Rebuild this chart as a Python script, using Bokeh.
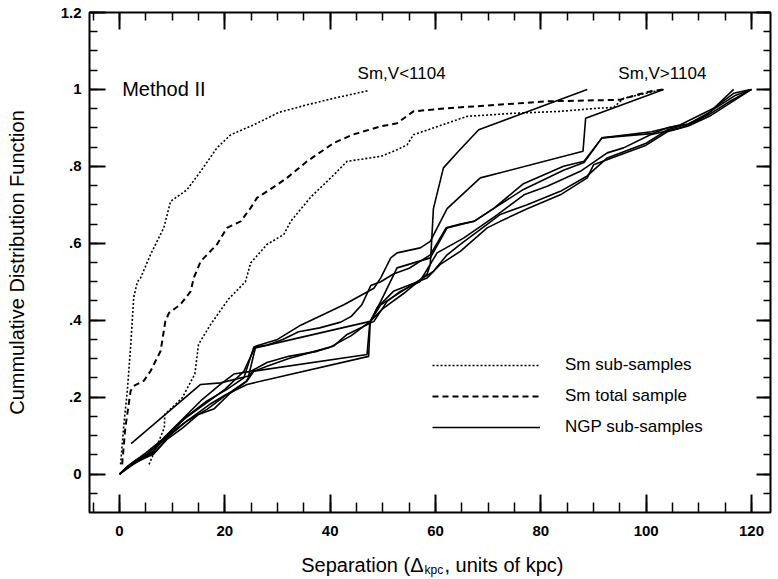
import math
from bokeh.plotting import figure
from bokeh.layouts import column
from bokeh.models import (Range1d, LinearAxis, FixedTicker, CustomJSTickFormatter,
                          Label, Legend, LegendItem)
from bokeh.embed import file_html
from bokeh.resources import INLINE

FONT = "Liberation Sans"

# ---------------- data ----------------
# Sm sub-sample, V<1104 (dotted, left)
sm_low_x = [0.2, 0.8, 1.5, 2.1, 2.7, 3.4, 4.0, 5.9, 8.4, 9.7, 12.8, 15.4, 18.5, 21.1, 25.5, 30.2, 35.6, 40.7, 47.3]
sm_low_y = [0.025, 0.125, 0.22, 0.33, 0.46, 0.50, 0.51, 0.571, 0.64, 0.709, 0.739, 0.787, 0.848, 0.882, 0.908, 0.94, 0.96, 0.977, 0.997]

# Sm total sample (dashed)
sm_tot_x = [0.5, 1.1, 2.1, 2.7, 4.6, 5.9, 7.8, 8.7, 9.4, 11.6, 13.5, 14.1, 15.4, 18.5, 20.4, 23.0, 24.9, 26.1, 29.9, 31.8,
            35.6, 40.7, 44.4, 49.6, 52.7, 55.8, 62.2, 81.2, 95.1, 98.0, 100.8, 103.3]
sm_tot_y = [0.025, 0.12, 0.216, 0.229, 0.242, 0.268, 0.32, 0.397, 0.419, 0.441, 0.475, 0.51, 0.553, 0.597, 0.64, 0.657,
            0.692, 0.718, 0.752, 0.77, 0.813, 0.861, 0.883, 0.904, 0.912, 0.943, 0.951, 0.969, 0.973, 0.985, 0.995, 1.0]

# Sm sub-sample, V>1104 (dotted, right)
sm_high_x = [5.6, 7.0, 8.5, 8.6, 11.9, 14.3, 15.0, 17.3, 20.7, 23.9, 24.9, 28.0, 31.2, 32.5, 36.3, 40.7, 43.2, 49.6,
             52.7, 54.6, 55.8, 66.0, 74.9, 83.7, 90.7, 93.8, 95.7, 100.0, 103.3]
sm_high_y = [0.025, 0.07, 0.12, 0.155, 0.198, 0.26, 0.337, 0.389, 0.455, 0.50, 0.549, 0.597, 0.623, 0.657, 0.72, 0.778,
             0.813, 0.826, 0.843, 0.856, 0.882, 0.93, 0.938, 0.943, 0.951, 0.953, 0.977, 0.99, 1.0]

# NGP sub-samples (solid)
ngp1_x = [0, 1.5, 3, 5, 8, 11, 14, 17, 20, 24.2, 47.3, 47.6, 50, 54, 58.4, 59.0, 59.2, 59.6, 61.5, 64.4, 68.2, 88.8]
ngp1_y = [0, 0.02, 0.035, 0.05, 0.085, 0.12, 0.15, 0.18, 0.205, 0.233, 0.306, 0.397, 0.43, 0.47, 0.52, 0.545, 0.59,
          0.69, 0.796, 0.84, 0.895, 1.0]

ngp2_x = [0, 2, 5, 9, 12, 15, 18, 20, 23.6, 25.8, 30, 34.4, 38, 42.6, 48.3, 49.6, 51.5, 52.7, 57.1, 59.0, 62.2, 68.5,
          88.0, 88.5, 103.3]
ngp2_y = [0, 0.025, 0.055, 0.10, 0.14, 0.17, 0.20, 0.22, 0.267, 0.332, 0.35, 0.387, 0.41, 0.44, 0.483, 0.51, 0.562,
          0.575, 0.588, 0.605, 0.69, 0.77, 0.839, 0.925, 1.0]

ngp3_x = [2.2, 15.4, 19.2, 24.5, 25.8, 47.6, 49.6, 52.7, 59.0, 62.2, 67.3, 71.0, 76.7, 84.3, 88.2, 91.6, 101.0, 106.5,
          112.8, 116.6, 119.8]
ngp3_y = [0.079, 0.233, 0.237, 0.255, 0.328, 0.397, 0.449, 0.536, 0.562, 0.64, 0.657, 0.69, 0.74, 0.79, 0.81, 0.874,
          0.89, 0.908, 0.951, 0.99, 1.0]

ngp4_x = [0, 2.7, 5.9, 8.4, 11.6, 15.4, 19.2, 21.7, 24.9, 28, 32.1, 37.5, 40.7, 43.2, 48.3, 50.8, 53.3, 57, 60.3, 65.4,
          71.7, 76.8, 81.2, 87.5, 92.6, 95.7, 100.8, 106.5, 110, 113, 117, 120]
ngp4_y = [0, 0.03, 0.052, 0.094, 0.138, 0.19, 0.234, 0.26, 0.267, 0.29, 0.306, 0.319, 0.333, 0.363, 0.397, 0.449, 0.475,
          0.50, 0.575, 0.614, 0.674, 0.726, 0.748, 0.787, 0.835, 0.848, 0.882, 0.90, 0.92, 0.95, 0.985, 1.0]

ngp5_x = [0, 3, 6.5, 9, 12.8, 16.6, 20.4, 23.6, 25.5, 28, 31, 34, 38, 42, 44, 46, 47.7, 49.6, 52, 55, 59, 62, 64.7,
          67.3, 71, 76.7, 84.3, 88.2, 91.6, 101, 104, 108, 112, 116.6]
ngp5_y = [0, 0.035, 0.06, 0.10, 0.15, 0.19, 0.22, 0.25, 0.33, 0.335, 0.35, 0.37, 0.38, 0.395, 0.41, 0.44, 0.49, 0.50,
          0.52, 0.535, 0.57, 0.64, 0.65, 0.657, 0.69, 0.755, 0.80, 0.813, 0.874, 0.885, 0.90, 0.91, 0.94, 1.0]

ngp6_x = [0, 3, 6.5, 9, 12.8, 16.6, 20.4, 24.2, 25.5, 28, 32, 36, 40, 44, 47.6, 49.6, 55.3, 59.6, 62.2, 64.7, 69.8,
          72.3, 77.4, 83.7, 88.8, 92.6, 95.1, 100, 104, 108, 112, 116, 120]
ngp6_y = [0, 0.03, 0.052, 0.094, 0.138, 0.168, 0.207, 0.242, 0.267, 0.28, 0.30, 0.315, 0.33, 0.36, 0.397, 0.44, 0.49,
          0.527, 0.57, 0.597, 0.649, 0.675, 0.70, 0.735, 0.775, 0.822, 0.835, 0.86, 0.895, 0.91, 0.935, 0.97, 1.0]

ngp7_x = [0, 2, 5, 7, 9, 12, 15, 18, 21, 24, 25.2, 47.0, 47.5, 48.9, 52, 58.4, 60.9, 64.7, 69.8, 72.3, 77.4, 83.7,
          88.8, 90, 95.1, 100, 104, 108, 112, 116, 120]
ngp7_y = [0, 0.02, 0.045, 0.06, 0.09, 0.12, 0.155, 0.17, 0.21, 0.24, 0.267, 0.311, 0.39, 0.432, 0.475, 0.51, 0.545,
          0.579, 0.64, 0.657, 0.69, 0.726, 0.77, 0.804, 0.83, 0.855, 0.89, 0.905, 0.93, 0.965, 1.0]

x_tick_values = [0, 20, 40, 60, 80, 100, 120]
x_tick_labels = ["0", "20", "40", "60", "80", "100", "120"]
x_minor_values = [-5, 0, 5, 10, 15, 20, 25, 30, 35, 40, 45, 50, 55, 60, 65, 70, 75, 80, 85, 90, 95, 100, 105, 110, 115, 120]
y_tick_values = [0, 0.2, 0.4, 0.6, 0.8, 1.0, 1.2]
y_tick_labels = ["0", ".2", ".4", ".6", ".8", "1", "1.2"]
y_minor_values = [-0.05, 0, 0.05, 0.1, 0.15, 0.2, 0.25, 0.3, 0.35, 0.4, 0.45, 0.5, 0.55, 0.6, 0.65, 0.7, 0.75, 0.8,
                  0.85, 0.9, 0.95, 1.0, 1.05, 1.1, 1.15, 1.2]

# ---------------- main figure ----------------
p = figure(width=778, height=549, x_range=Range1d(-5.7, 123.6), y_range=Range1d(-0.1, 1.2),
           x_axis_type=None, y_axis_type=None, output_backend="svg", toolbar_location=None,
           min_border_left=89, min_border_right=8, min_border_top=12, min_border_bottom=37)
p.outline_line_color = "black"
p.outline_line_width = 2
p.background_fill_color = "white"
p.border_fill_color = "white"

LOOKUP = """
for (let i = 0; i < vals.length; i++) { if (Math.abs(tick - vals[i]) < 1e-6) return labs[i]; }
return '';
"""


def make_axis(vals, labs, minor, major_in, minor_in, show_labels, standoff):
    ax = LinearAxis(ticker=FixedTicker(ticks=vals, minor_ticks=minor),
                    formatter=CustomJSTickFormatter(args=dict(vals=vals, labs=labs if show_labels else [""] * len(vals)),
                                                    code=LOOKUP))
    ax.axis_line_color = None
    ax.major_tick_in = major_in
    ax.major_tick_out = 0
    ax.minor_tick_in = minor_in
    ax.minor_tick_out = 0
    ax.major_tick_line_width = 2
    ax.minor_tick_line_width = 1.5
    ax.major_tick_line_color = "black"
    ax.minor_tick_line_color = "black"
    ax.major_label_standoff = standoff
    ax.major_label_text_font = FONT
    ax.major_label_text_font_style = "bold"
    ax.major_label_text_color = "black"
    ax.major_label_text_font_size = "15px" if show_labels else "0px"
    return ax


p.add_layout(make_axis(x_tick_values, x_tick_labels, x_minor_values, 18, 10, True, 13), "below")
yax = make_axis(y_tick_values, y_tick_labels, y_minor_values, 16, 8, True, 8)
yax.axis_label = "Cummulative Distribution Function"
yax.axis_label_text_font = FONT
yax.axis_label_text_font_size = "20px"
yax.axis_label_text_font_style = "normal"
yax.axis_label_text_color = "black"
yax.axis_label_standoff = 30
p.add_layout(yax, "left")
p.add_layout(make_axis(x_tick_values, x_tick_labels, x_minor_values, 17, 8, False, 0), "above")
p.add_layout(make_axis(y_tick_values, y_tick_labels, y_minor_values, 14, 7, False, 0), "right")

# ---------------- curves ----------------
DOT = "2 2"
DASH = "6 4"
r_low = p.line(sm_low_x, sm_low_y, line_color="black", line_width=1.6, line_dash=DOT)
r_high = p.line(sm_high_x, sm_high_y, line_color="black", line_width=1.6, line_dash=DOT)
r_tot = p.line(sm_tot_x, sm_tot_y, line_color="black", line_width=2, line_dash=DASH)

ngp_sets = [(ngp1_x, ngp1_y), (ngp2_x, ngp2_y), (ngp3_x, ngp3_y), (ngp4_x, ngp4_y),
            (ngp5_x, ngp5_y), (ngp6_x, ngp6_y), (ngp7_x, ngp7_y)]
ngp_rs = [p.line(xs, ys, line_color="black", line_width=1.6) for xs, ys in ngp_sets]

# ---------------- legend ----------------
legend = Legend(items=[LegendItem(label="Sm sub-samples", renderers=[r_low]),
                       LegendItem(label="Sm total sample", renderers=[r_tot]),
                       LegendItem(label="NGP sub-samples", renderers=[ngp_rs[0]])],
                location=(343, 75), glyph_width=108, glyph_height=20, label_height=20, spacing=11,
                label_standoff=25, padding=0, margin=0, border_line_alpha=0, background_fill_alpha=0,
                label_text_font=FONT, label_text_font_size="17px", label_text_color="black")
p.add_layout(legend)

# ---------------- annotations ----------------
p.add_layout(Label(x=0.5, y=1.0, text="Method II", text_font=FONT, text_font_size="20px",
                   text_baseline="middle", text_align="left", text_color="black"))
p.add_layout(Label(x=45.2, y=1.042, text="Sm,V<1104", text_font=FONT, text_font_size="17px",
                   text_baseline="middle", text_align="left", text_color="black"))
p.add_layout(Label(x=94.7, y=1.042, text="Sm,V>1104", text_font=FONT, text_font_size="17px",
                   text_baseline="middle", text_align="left", text_color="black"))

# ---------------- x axis title strip (with subscript) ----------------
# (the column aligns this strip's frame with the main frame, so x is measured from the frame's left edge)
p2 = figure(width=778, height=30, x_range=Range1d(0, 1), y_range=Range1d(0, 1),
            x_axis_type=None, y_axis_type=None, output_backend="svg", toolbar_location=None,
            min_border=0)
p2.outline_line_color = None
p2.background_fill_color = "white"
p2.border_fill_color = "white"
p2.add_layout(Label(x=334, y=15, x_units="screen", y_units="screen", text="Separation (\u0394",
                    text_font=FONT, text_font_size="20px", text_align="right", text_baseline="alphabetic",
                    text_color="black"))
p2.add_layout(Label(x=335, y=10, x_units="screen", y_units="screen", text="kpc",
                    text_font=FONT, text_font_size="12px", text_align="left", text_baseline="alphabetic",
                    text_color="black"))
p2.add_layout(Label(x=355, y=15, x_units="screen", y_units="screen", text=", units of kpc)",
                    text_font=FONT, text_font_size="20px", text_align="left", text_baseline="alphabetic",
                    text_color="black"))

layout = column(p, p2, spacing=0)
open("out.html", "w").write(file_html(layout, INLINE))
